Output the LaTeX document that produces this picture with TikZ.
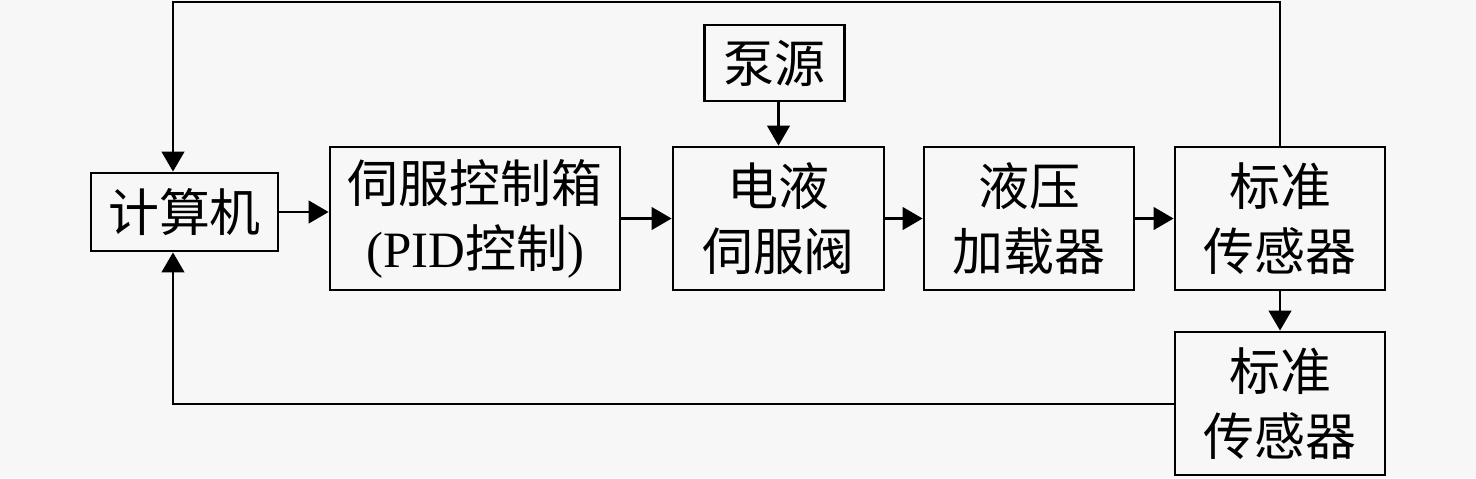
\documentclass[tikz,border=0pt]{standalone}
\usepackage{fontspec}
\setmainfont{Liberation Serif}
\newfontfamily\cjk{Noto Sans CJK SC}
\usetikzlibrary{arrows.meta}
\definecolor{bgcol}{HTML}{F7F7F7}

\begin{document}
\begin{tikzpicture}[x=0.02cm, y=-0.02cm,
    box/.style={draw, line width=1.6pt, inner sep=0pt, align=center,
        font=\fontsize{29pt}{37pt}\selectfont\cjk},
    flow/.style={line width=1.6pt, -{Triangle[length=0.4cm, width=0.45cm]}}]
			%%%%% START %%%%%
			
			\fill[bgcol] (0, 0) rectangle (1476, 478);
			\useasboundingbox (0, 0) rectangle (1476, 478);
			
			\node[box, minimum width=187*0.02cm, minimum height=78*0.02cm] (pc) at (184.5, 212) {计算机};
			\node[box, minimum width=290*0.02cm, minimum height=143*0.02cm] (ctrl) at (475, 218.5) {伺服控制箱\\{\rmfamily(PID}控制{\rmfamily)}};
			\node[box, minimum width=211*0.02cm, minimum height=143*0.02cm] (valve) at (778.5, 218.5) {电液\\伺服阀};
			\node[box, minimum width=210*0.02cm, minimum height=143*0.02cm] (loader) at (1029, 218.5) {液压\\加载器};
			\node[box, minimum width=210*0.02cm, minimum height=143*0.02cm] (sensA) at (1280, 218.5) {标准\\传感器};
			\node[box, minimum width=210*0.02cm, minimum height=143*0.02cm] (sensB) at (1280, 403.5) {标准\\传感器};
			\node[box, minimum width=140*0.02cm, minimum height=76*0.02cm] (pump) at (774.5, 63) {泵源};
			
			\coordinate (topL) at (173, 2);
			\coordinate (botL) at (173, 404);
			
			\draw[flow] (pc.east) -- (pc.east -| ctrl.west);
			\draw[flow] (ctrl) -- (valve);
			\draw[flow] (valve) -- (loader);
			\draw[flow] (loader) -- (sensA);
			\draw[flow] (sensA) -- (sensB);
			\draw[flow] (pump.south -| valve.north) -- (valve.north);
			
			\draw[flow] (sensA.north) |- (topL) -- (topL |- pc.north);
			\draw[flow] (sensB.west |- botL) -- (botL) -- (botL |- pc.south);
			
			%%%%% END %%%%%
		\end{tikzpicture}
\end{document}
